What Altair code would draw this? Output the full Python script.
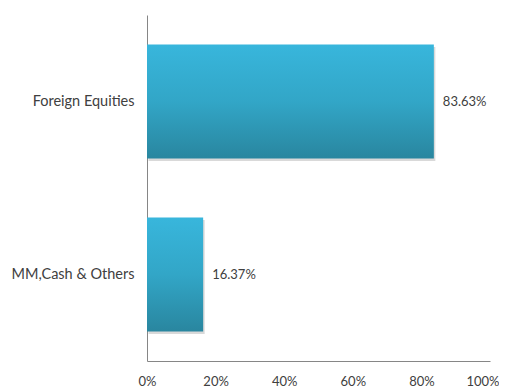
import altair as alt
import pandas as pd

categories = ["Foreign Equities", "MM,Cash & Others"]
values = [0.8363, 0.1637]
labels = ["83.63%", "16.37%"]
x_ticks = [0, 0.2, 0.4, 0.6, 0.8, 1.0]

df = pd.DataFrame({"category": categories, "value": values, "label": labels})

FONT = "Lato"
TXT = "#404040"

y_enc = alt.Y("category:N", sort=categories, title=None,
              scale=alt.Scale(paddingInner=0.34, paddingOuter=0.17),
              axis=alt.Axis(ticks=False, labelPadding=13, labelFont=FONT, labelFontSize=14.5,
                            labelColor=TXT, domainColor="#868686", labelLimit=200))
x_enc = alt.X("value:Q", title=None,
              scale=alt.Scale(domain=[0, 1]),
              axis=alt.Axis(values=x_ticks, format=".0%", grid=False, ticks=False,
                            labelFlush=False, labelPadding=14, labelFont=FONT, labelFontSize=13,
                            labelAlign=alt.condition("datum.value >= 1", alt.value("right"), alt.value("center")),
                            labelOffset=alt.condition("datum.value >= 1", alt.value(9), alt.value(0)),
                            labelColor=TXT, domainColor="#868686"))

base = alt.Chart(df)

shadow = base.mark_bar(color="#d0d0d0", xOffset=1.5, yOffset=2.5, opacity=0.8).encode(x=x_enc, y=y_enc)

grad = alt.Gradient(
    gradient="linear",
    stops=[alt.GradientStop(color="#38b6dc", offset=0),
           alt.GradientStop(color="#32a6c7", offset=0.5),
           alt.GradientStop(color="#29869f", offset=1)],
    x1=0, x2=0, y1=0, y2=1,
)
bars = base.mark_bar(color=grad).encode(x=x_enc, y=y_enc)

text = base.mark_text(align="left", dx=9, font=FONT, fontSize=13, color=TXT).encode(
    x="value:Q", y=alt.Y("category:N", sort=categories), text="label:N")

chart = alt.layer(shadow, bars, text).properties(
    width=343, height=346,
    autosize=alt.AutoSizeParams(type="none"),
    padding={"left": 139, "top": 7, "right": 9, "bottom": 27},
).configure_view(stroke=None)

chart.save("out.html", embed_options={"renderer": "svg", "actions": False})
